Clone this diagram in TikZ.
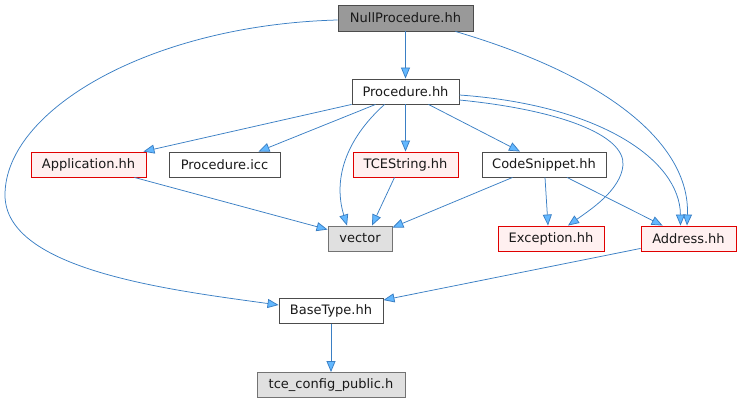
\documentclass[tikz,border=0pt]{standalone}
\usepackage{fontspec}
\setmainfont{DejaVu Sans}
\usetikzlibrary{arrows.meta,calc}
\definecolor{edgec}{HTML}{3A7FC4}
\definecolor{tipc}{HTML}{63B8FF}
\definecolor{redb}{HTML}{E00000}
\definecolor{redf}{HTML}{FFF0F0}
\definecolor{grayf}{HTML}{E0E0E0}
\definecolor{darkf}{HTML}{999999}
\tikzset{
  box/.style={draw=black!70, fill=white, line width=0.9pt, inner sep=0pt,
    minimum height=25pt, font=\fontsize{13}{15}\selectfont, text=black!90},
  redbox/.style={box, draw=redb, fill=redf},
  extbox/.style={box, draw=black!55, fill=grayf},
  rootbox/.style={box, draw=black!70, fill=darkf},
  edge/.style={draw=edgec, line width=0.75pt,
    -{Triangle[length=11pt,width=9pt,fill=tipc]}},
}
\begin{document}
\begin{tikzpicture}[x=1pt,y=-1pt]
\useasboundingbox (0,0) rectangle (741,403);
\node[rootbox, minimum width=135pt, minimum height=26pt] (np) at (405.5,18) {NullProcedure.hh};
\node[box, minimum width=107pt] (pr) at (405.5,91.5) {Procedure.hh};
\node[redbox, minimum width=115pt] (app) at (88.5,164.5) {Application.hh};
\node[box, minimum width=111pt] (icc) at (224.5,164.5) {Procedure.icc};
\node[redbox, minimum width=105pt] (tce) at (405.5,164.5) {TCEString.hh};
\node[box, minimum width=124pt] (cs) at (544,164.5) {CodeSnippet.hh};
\node[extbox, minimum width=64pt] (vec) at (360,238.5) {vector};
\node[redbox, minimum width=106pt] (exc) at (551,238.5) {Exception.hh};
\node[redbox, minimum width=95pt] (addr) at (688.5,238.5) {Address.hh};
\node[box, minimum width=104pt] (bt) at (331,311) {BaseType.hh};
\node[extbox, minimum width=148pt] (cfg) at (331,385) {tce\_config\_public.h};

\coordinate (lft) at (5,195);
\coordinate (exr) at (623,165);

\draw[edge] (np.south) -- (pr.north);
\draw[edge] ($(np.west)+(0,2)$) .. controls (150,25) and (5,110) .. (lft)
  .. controls (5,270) and (170,290) .. ($(bt.west)+(0,-6)$);
\draw[edge] ($(np.south east)+(-18,0)$) .. controls (620,80) and (690,150) .. ($(addr.north)+(-1.5,0)$);
\draw[edge] (pr.south west) -- ($(app.north east)+(-3,0)$);
\draw[edge] ($(pr.south west)+(24,0)$) -- ($(icc.north)+(34,0)$);
\draw[edge] ($(pr.south west)+(33,0)$) .. controls (345,140) and (333,180) .. ($(vec.north)+(-13,0)$);
\draw[edge] (pr.south) -- (tce.north);
\draw[edge] ($(pr.south)+(23,0)$) -- ($(cs.north)+(-24,0)$);
\draw[edge] ($(pr.east)+(0,8.5)$) .. controls (560,110) and (625,135) .. (exr)
  .. controls (621,190) and (590,210) .. ($(exc.north)+(17,0)$);
\draw[edge] ($(pr.east)+(0,3.5)$) .. controls (600,105) and (680,160) .. ($(addr.north)+(-8,0)$);
\draw[edge] ($(app.south east)+(-12,0)$) -- ($(vec.north west)+(0,4)$);
\draw[edge] ($(tce.south)+(-11,0)$) -- ($(vec.north)+(12,0)$);
\draw[edge] ($(cs.south west)+(31,0)$) -- ($(vec.north east)+(0,2)$);
\draw[edge] ($(cs.south)+(1,0)$) -- ($(exc.north)+(-3,0)$);
\draw[edge] ($(cs.south)+(23,0)$) -- ($(addr.north west)+(22,0)$);
\draw[edge] ($(addr.south west)+(0,-3)$) -- ($(bt.north east)+(0,2)$);
\draw[edge] (bt.south) -- (cfg.north);
\end{tikzpicture}
\end{document}
